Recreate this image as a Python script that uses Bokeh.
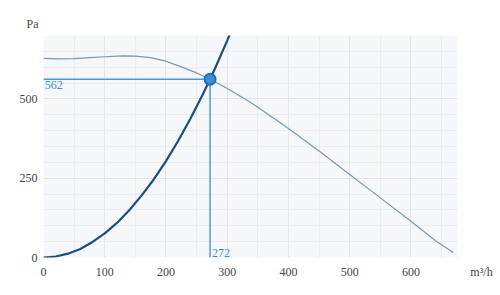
from bokeh.plotting import figure
from bokeh.models import Range1d, FixedTicker, Label, Title
from bokeh.embed import file_html
from bokeh.resources import INLINE

# Fan curve
fan_x = [0, 25, 50, 75, 100, 130, 150, 175, 200, 225, 250, 272, 300, 335, 350, 400, 450, 500, 550, 600, 640, 669]
fan_y = [628, 626, 627, 630, 633, 636, 635, 630, 619, 601, 582, 562, 533, 493, 474, 407, 336, 262, 188, 114, 53, 16]

# System curve
sys_x = [0, 20, 40, 60, 80, 100, 120, 140, 160, 180, 200, 220, 240, 260, 272, 280, 300, 305]
sys_y = [0, 3, 12, 27, 49, 76, 109, 149, 195, 246, 304, 368, 438, 514, 562, 596, 684, 707]

# Operating point
op_x = 272
op_y = 562

x_max = 676
y_max = 700
x_ticks = [0, 100, 200, 300, 400, 500, 600]
y_ticks = [0, 250, 500]
x_minor = [50, 150, 250, 350, 450, 550, 650]
y_minor = [50, 100, 150, 200, 300, 350, 400, 450, 550, 600, 650, 700]
x_unit = "m³/h"
y_unit = "Pa"

FONT = "Liberation Serif"
FS = "12px"

p = figure(width=500, height=295, output_backend="svg", toolbar_location=None,
           x_range=Range1d(0, x_max), y_range=Range1d(0, y_max),
           min_border_left=43, min_border_right=43, min_border_top=35, min_border_bottom=38)
p.background_fill_color = "#f5f7fa"
p.border_fill_color = "white"
p.outline_line_color = None

for ax in (p.xaxis[0], p.yaxis[0]):
    ax.axis_line_color = None
    ax.major_tick_line_color = None
    ax.minor_tick_line_color = None
    ax.major_tick_out = 0
    ax.major_tick_in = 0
    ax.minor_tick_out = 0
    ax.minor_tick_in = 0
    ax.major_label_text_font = FONT
    ax.major_label_text_font_size = FS
    ax.major_label_text_color = "#444444"
# unit label placed as an extra tick at the right end of the x axis
p.xaxis[0].ticker = FixedTicker(ticks=x_ticks + [x_max], minor_ticks=x_minor)
p.xaxis[0].major_label_overrides = {x_max: "\u2003\u2003\u2003\u2003" + x_unit}
p.yaxis[0].ticker = FixedTicker(ticks=y_ticks, minor_ticks=y_minor)
p.xaxis[0].major_label_standoff = 7
p.yaxis[0].major_label_standoff = 6

for g in (p.xgrid[0], p.ygrid[0]):
    g.grid_line_color = "#e1e5ea"
    g.grid_line_width = 1
    g.minor_grid_line_color = "#e9ecf0"
    g.minor_grid_line_width = 1
p.xgrid[0].ticker = FixedTicker(ticks=x_ticks, minor_ticks=x_minor)
p.ygrid[0].ticker = FixedTicker(ticks=y_ticks, minor_ticks=y_minor)

# fan curve
p.line(fan_x, fan_y, line_color="#7d97b0", line_width=1.2)
# system curve
p.line(sys_x, sys_y, line_color="#1c4f80", line_width=2.2)

# drop lines
p.line([0, op_x], [op_y, op_y], line_color="#4b9bd4", line_width=1.5)
p.line([op_x, op_x], [0, op_y], line_color="#4b9bd4", line_width=1.5)

# operating point marker
p.scatter([op_x], [op_y], size=11, fill_color="#3c8fd6", line_color="#1f6fb5", line_width=2)

p.add_layout(Label(x=2, y=op_y, text=str(op_y), y_offset=-10, text_font=FONT,
                   text_font_size=FS, text_color="#3a8fd0"))
p.add_layout(Label(x=op_x, y=0, text=str(op_x), x_offset=2, y_offset=1, text_font=FONT,
                   text_font_size=FS, text_color="#3a8fd0"))

# y unit as a title above the frame
p.add_layout(Title(text=y_unit, align="left", offset=-17, standoff=10, text_font=FONT,
                   text_font_size=FS, text_font_style="normal", text_color="#444444"), "above")

open("out.html", "w").write(file_html(p, INLINE))
